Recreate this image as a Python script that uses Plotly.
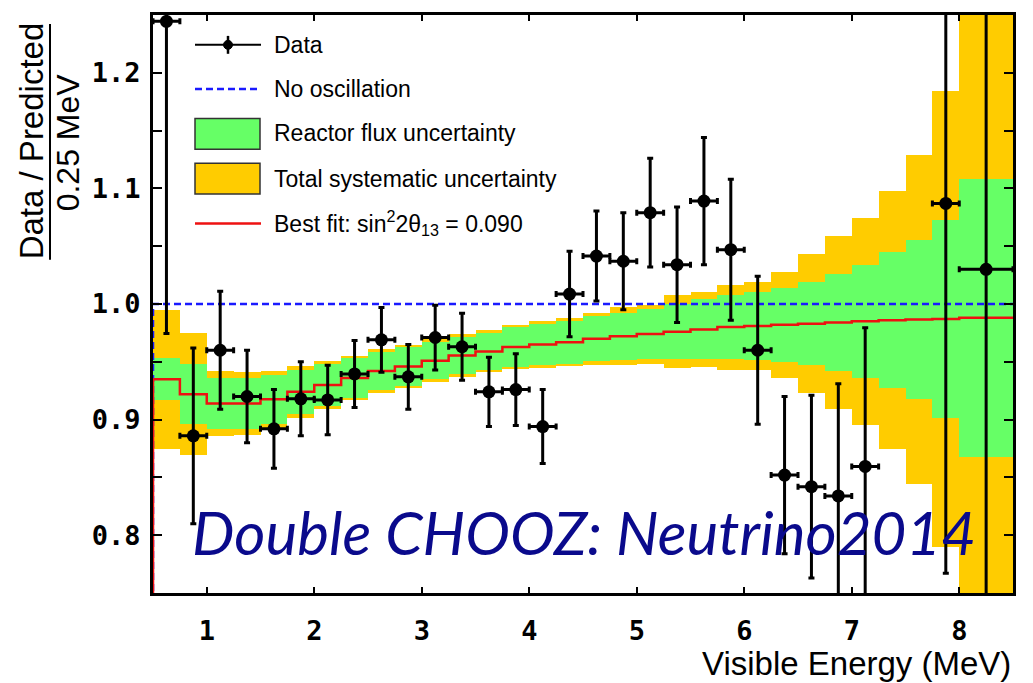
import plotly.graph_objects as go

# ---------------- data ----------------
bin_edges = [0.5, 0.75, 1.0, 1.25, 1.5, 1.75, 2.0, 2.25, 2.5, 2.75, 3.0, 3.25,
             3.5, 3.75, 4.0, 4.25, 4.5, 4.75, 5.0, 5.25, 5.5, 5.75, 6.0, 6.25,
             6.5, 6.75, 7.0, 7.25, 7.5, 7.75, 8.0, 8.5]

best_fit = [0.935, 0.922, 0.914, 0.914, 0.9175, 0.924, 0.930, 0.936, 0.942,
            0.946, 0.951, 0.9555, 0.959, 0.9627, 0.965, 0.967, 0.970, 0.972,
            0.974, 0.976, 0.978, 0.980, 0.981, 0.982, 0.983, 0.984, 0.985,
            0.986, 0.9865, 0.987, 0.988]

reactor_flux_err = [0.018, 0.026, 0.022, 0.022, 0.021, 0.019, 0.018, 0.017,
                    0.0165, 0.0165, 0.016, 0.016, 0.016, 0.017, 0.018, 0.0185,
                    0.0195, 0.0205, 0.022, 0.024, 0.026, 0.0275, 0.0295, 0.032,
                    0.036, 0.042, 0.049, 0.059, 0.069, 0.086, 0.120]

total_syst_err = [0.060, 0.053, 0.028, 0.027, 0.0245, 0.0226, 0.021, 0.019,
                  0.019, 0.0186, 0.0188, 0.0186, 0.0182, 0.019, 0.020, 0.021,
                  0.0226, 0.025, 0.0255, 0.0316, 0.0327, 0.0368, 0.038, 0.046,
                  0.060, 0.0744, 0.0896, 0.1114, 0.1425, 0.197, 0.30]

no_oscillation = 1.0

data_x = [0.625, 0.875, 1.125, 1.375, 1.625, 1.875, 2.125, 2.375, 2.625,
          2.875, 3.125, 3.375, 3.625, 3.875, 4.125, 4.375, 4.625, 4.875,
          5.125, 5.375, 5.625, 5.875, 6.125, 6.375, 6.625, 6.875, 7.125,
          7.875, 8.25]
data_y = [1.2445, 0.886, 0.960, 0.920, 0.892, 0.918, 0.917, 0.9395, 0.969,
          0.937, 0.971, 0.963, 0.924, 0.926, 0.894, 1.0086, 1.0415, 1.037,
          1.079, 1.034, 1.089, 1.047, 0.960, 0.852, 0.842, 0.834, 0.8595,
          1.087, 1.030]
data_yerr = [0.27, 0.076, 0.051, 0.040, 0.034, 0.032, 0.030, 0.029, 0.028,
             0.028, 0.028, 0.029, 0.030, 0.031, 0.032, 0.037, 0.039, 0.042,
             0.047, 0.050, 0.055, 0.061, 0.064, 0.068, 0.079, 0.097, 0.12,
             0.32, 0.40]
data_xerr = [0.125, 0.125, 0.125, 0.125, 0.125, 0.125, 0.125, 0.125, 0.125,
             0.125, 0.125, 0.125, 0.125, 0.125, 0.125, 0.125, 0.125, 0.125,
             0.125, 0.125, 0.125, 0.125, 0.125, 0.125, 0.125, 0.125, 0.125,
             0.125, 0.25]

x_ticks = [1, 2, 3, 4, 5, 6, 7, 8]
y_ticks = [0.8, 0.9, 1.0, 1.1, 1.2]
y_tick_text = ["0.8", "0.9", "1.0", "1.1", "1.2"]

# ---------------- derived quantities ----------------
centers = [(a + b) / 2 for a, b in zip(bin_edges[:-1], bin_edges[1:])]
widths = [b - a for a, b in zip(bin_edges[:-1], bin_edges[1:])]

GREEN = "#66FF66"
ORANGE = "#FFCC00"
TICKFONT = dict(family="DejaVu Sans Mono", size=27, color="black", weight="bold")
TEXTFONT = "Liberation Sans, Arial, sans-serif"

fig = go.Figure()

# total systematic band
fig.add_trace(go.Bar(
    x=centers, width=widths,
    base=[f - e for f, e in zip(best_fit, total_syst_err)],
    y=[2 * e for e in total_syst_err],
    marker=dict(color=ORANGE, line=dict(width=0)),
    hoverinfo="skip"))
# reactor flux band
fig.add_trace(go.Bar(
    x=centers, width=widths,
    base=[f - e for f, e in zip(best_fit, reactor_flux_err)],
    y=[2 * e for e in reactor_flux_err],
    marker=dict(color=GREEN, line=dict(width=0)),
    hoverinfo="skip"))

# no oscillation (histogram at 1)
fig.add_trace(go.Scatter(
    x=[bin_edges[0]] + bin_edges,
    y=[0] + [no_oscillation] * len(bin_edges),
    mode="lines", line=dict(color="#1a1aff", width=2.5, dash="7px,4px", shape="hv"),
    hoverinfo="skip"))

# best fit step line
fig.add_trace(go.Scatter(
    x=[bin_edges[0]] + bin_edges,
    y=[0] + best_fit + [best_fit[-1]],
    mode="lines", line=dict(color="#ee1111", width=2.5, shape="hv"),
    hoverinfo="skip"))

# data
fig.add_trace(go.Scatter(
    x=data_x, y=data_y, mode="markers",
    marker=dict(color="black", size=13),
    error_y=dict(type="data", array=data_yerr, color="black", thickness=3, width=3),
    error_x=dict(type="data", array=data_xerr, color="black", thickness=3, width=3),
    hoverinfo="skip"))

# ---------------- layout ----------------
PL, PR, PT, PB = 153, 1013, 12, 593


def px(x):
    return (x - PL) / (PR - PL)


def py(y):
    return (PB - y) / (PB - PT)


fig.update_layout(
    width=1033, height=683,
    margin=dict(l=PL, r=1033 - PR, t=PT, b=683 - PB),
    paper_bgcolor="white", plot_bgcolor="white",
    showlegend=False, barmode="overlay", bargap=0,
    font=dict(family=TEXTFONT, color="black"),
)
fig.update_xaxes(
    range=[0.5, 8.5], tickvals=x_ticks, ticks="inside", ticklen=6, tickwidth=2,
    tickcolor="black", showline=True, linewidth=3, linecolor="black",
    mirror="allticks", showgrid=False, zeroline=False, tickfont=TICKFONT,
    ticklabelstandoff=12)
fig.update_yaxes(
    range=[0.75, 1.25], tickvals=y_ticks, ticktext=y_tick_text, ticks="inside",
    ticklen=9, tickwidth=2, tickcolor="black", showline=True, linewidth=3,
    linecolor="black", mirror="allticks", showgrid=False, zeroline=False,
    tickfont=TICKFONT, ticklabelstandoff=4,
    minor=dict(dtick=0.05, ticks="inside", ticklen=9, tickwidth=2,
               tickcolor="black", showgrid=False))

annotations = []
shapes = []

# axis titles
annotations.append(dict(text="Visible Energy (MeV)", x=px(1013), y=py(664),
                        xref="paper", yref="paper", xanchor="right", yanchor="middle",
                        showarrow=False, font=dict(size=33, family=TEXTFONT)))
annotations.append(dict(text="Data / Predicted", x=px(31), y=py(139), textangle=-90,
                        xref="paper", yref="paper", xanchor="center", yanchor="middle",
                        showarrow=False, font=dict(size=33, family=TEXTFONT)))
annotations.append(dict(text="0.25 MeV", x=px(68), y=py(140), textangle=-90,
                        xref="paper", yref="paper", xanchor="center", yanchor="middle",
                        showarrow=False, font=dict(size=32, family=TEXTFONT)))
shapes.append(dict(type="line", xref="paper", yref="paper",
                   x0=px(50), x1=px(50), y0=py(21), y1=py(258),
                   line=dict(color="black", width=2)))

# legend
leg_items_y = [42, 86.5, 131, 176.5, 221.5]
leg_labels = ["Data", "No oscillation", "Reactor flux uncertainty",
              "Total systematic uncertainty",
              "Best fit: sin<sup>2</sup>2θ<sub>13</sub> = 0.090"]
for yy, lab in zip(leg_items_y, leg_labels):
    annotations.append(dict(text=lab, x=px(272), y=py(yy), xref="paper", yref="paper",
                            xanchor="left", yanchor="middle", showarrow=False,
                            font=dict(size=23, family=TEXTFONT)))
LX0, LX1 = 195, 261
shapes.append(dict(type="line", xref="paper", yref="paper", x0=px(LX0), x1=px(LX1),
                   y0=py(42), y1=py(42), line=dict(color="black", width=2)))
shapes.append(dict(type="line", xref="paper", yref="paper", x0=px(228), x1=px(228),
                   y0=py(33), y1=py(51), line=dict(color="black", width=2.5)))
shapes.append(dict(type="circle", xref="paper", yref="paper", x0=px(223.5), x1=px(232.5),
                   y0=py(37.5), y1=py(46.5), fillcolor="black", line=dict(color="black", width=1)))
shapes.append(dict(type="line", xref="paper", yref="paper", x0=px(LX0), x1=px(LX1),
                   y0=py(86.5), y1=py(86.5), line=dict(color="#1a1aff", width=2.5, dash="7px,4px")))
shapes.append(dict(type="rect", xref="paper", yref="paper", x0=px(LX0), x1=px(260),
                   y0=py(116), y1=py(147), fillcolor=GREEN, line=dict(color="#333333", width=1.5)))
shapes.append(dict(type="rect", xref="paper", yref="paper", x0=px(LX0), x1=px(260),
                   y0=py(161), y1=py(192), fillcolor=ORANGE, line=dict(color="#333333", width=1.5)))
shapes.append(dict(type="line", xref="paper", yref="paper", x0=px(LX0), x1=px(LX1),
                   y0=py(221.5), y1=py(221.5), line=dict(color="#ee1111", width=2.5)))

# overlay caption
annotations.append(dict(text="Double CHOOZ: Neutrino2014", x=px(584), y=py(532),
                        xref="paper", yref="paper", xanchor="center", yanchor="middle",
                        showarrow=False,
                        font=dict(size=60, family="Lato, Open Sans, sans-serif",
                                  color="#0a0a8c", style="italic")))

fig.update_layout(annotations=annotations, shapes=shapes)
fig.write_html("out.html")
